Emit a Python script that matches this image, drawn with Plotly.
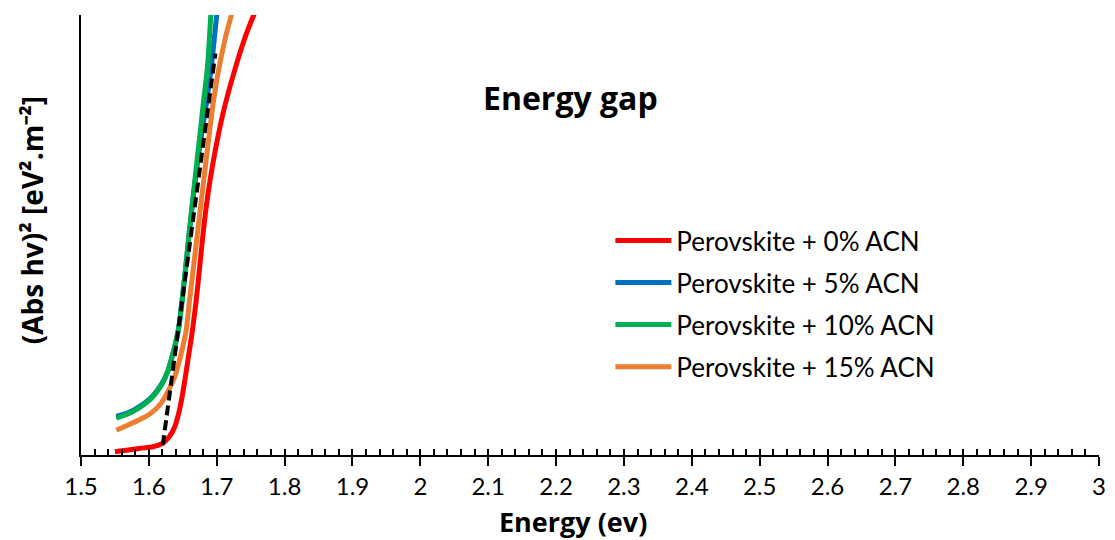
import plotly.graph_objects as go

# Tauc plot data: photon energy (eV) vs (Abs·hv)^2 (arbitrary units)
e_0 = [1.550, 1.586, 1.606, 1.620, 1.630, 1.638, 1.644, 1.649, 1.653, 1.657, 1.661, 1.665,
       1.6698, 1.6749, 1.680, 1.6859, 1.6932, 1.702, 1.712, 1.727, 1.744, 1.7546, 1.770]
abs_0 = [0.06, 0.12, 0.15, 0.21, 0.33, 0.51, 0.76, 1.06, 1.36, 1.68, 2.00, 2.34,
         2.82, 3.42, 4.04, 4.64, 5.22, 5.80, 6.35, 7.02, 7.67, 8.00, 8.45]

e_5 = [1.552, 1.570, 1.586, 1.606, 1.620, 1.628, 1.634, 1.639, 1.6445, 1.650, 1.655, 1.660,
       1.665, 1.671, 1.678, 1.6855, 1.692, 1.700, 1.706]
abs_5 = [0.70, 0.77, 0.88, 1.08, 1.32, 1.53, 1.78, 2.02, 2.36, 2.93, 3.50, 4.10,
         4.64, 5.24, 5.85, 6.45, 7.05, 8.00, 8.70]

e_10 = [1.552, 1.570, 1.586, 1.606, 1.620, 1.628, 1.634, 1.639, 1.6445, 1.650, 1.655, 1.660,
        1.665, 1.670, 1.6755, 1.6807, 1.6863, 1.6913, 1.696]
abs_10 = [0.67, 0.75, 0.86, 1.06, 1.30, 1.52, 1.77, 2.01, 2.35, 2.92, 3.50, 4.10,
          4.68, 5.25, 5.85, 6.45, 7.05, 8.00, 8.90]

e_15 = [1.552, 1.586, 1.603, 1.618, 1.629, 1.638, 1.644, 1.650, 1.655, 1.660, 1.6658, 1.6717,
        1.6774, 1.6832, 1.6891, 1.6946, 1.701, 1.708, 1.715, 1.7229, 1.735]
abs_15 = [0.45, 0.64, 0.76, 0.94, 1.18, 1.42, 1.67, 1.97, 2.27, 2.82, 3.42, 4.04,
          4.64, 5.24, 5.85, 6.38, 6.88, 7.32, 7.70, 8.05, 8.55]

# Linear extrapolation of the absorption edge
fit_e = [1.6205, 1.698]
fit_abs = [0.18, 7.30]

series_names = ["Perovskite + 0% ACN", "Perovskite + 5% ACN",
                "Perovskite + 10% ACN", "Perovskite + 15% ACN"]
series_colors = ["#FF0000", "#0070C0", "#00B050", "#ED7D31"]

x_tickvals = [1.5, 1.6, 1.7, 1.8, 1.9, 2.0, 2.1, 2.2, 2.3, 2.4, 2.5, 2.6, 2.7, 2.8, 2.9, 3.0]
x_ticktext = ["1.5", "1.6", "1.7", "1.8", "1.9", "2", "2.1", "2.2", "2.3", "2.4",
              "2.5", "2.6", "2.7", "2.8", "2.9", "3"]

FONT = "Lato"
BOLD_FONT = "Open Sans"

# plot area in pixels
L, R, T, B = 81, 9, 15, 85
W, H = 1115, 540
PW, PH = W - L - R, H - T - B


def px_x(px):
    return (px - L) / PW


def px_y(py):
    return (H - B - py) / PH


fig = go.Figure()
for xs, ys, name, color in zip([e_0, e_5, e_10, e_15], [abs_0, abs_5, abs_10, abs_15],
                               series_names, series_colors):
    fig.add_trace(go.Scatter(x=xs, y=ys, mode="lines", name=name,
                             line=dict(color=color, width=5, shape="spline", smoothing=0.8),
                             legendgroup=name))

fig.add_trace(go.Scatter(x=fit_e, y=fit_abs, mode="lines", showlegend=False,
                         line=dict(color="black", width=4, dash="10px,5px")))

# Invisible carrier for the inner tick axis
fig.add_trace(go.Scatter(x=[1.5], y=[0], xaxis="x2", mode="markers",
                         marker=dict(opacity=0), showlegend=False, hoverinfo="skip"))

fig.update_layout(
    width=W, height=H,
    margin=dict(l=L, r=R, t=T, b=B),
    paper_bgcolor="white", plot_bgcolor="white",
    font=dict(family=FONT, color="black"),
    showlegend=True,
    legend=dict(x=px_x(614), y=px_y(217), xanchor="left", yanchor="top",
                font=dict(size=26, family=FONT), bgcolor="rgba(0,0,0,0)",
                traceorder="grouped", tracegroupgap=5.3, itemwidth=56),
    xaxis=dict(range=[1.5, 3.0], tickvals=x_tickvals, ticktext=x_ticktext,
               ticks="outside", ticklen=9, tickwidth=2, tickcolor="black",
               showline=True, linecolor="black", linewidth=2, showgrid=False,
               zeroline=False, tickfont=dict(size=24, family=FONT)),
    xaxis2=dict(range=[1.5, 3.0], overlaying="x", side="bottom", anchor="y",
                dtick=0.02, tick0=1.5, ticks="inside", ticklen=6, tickwidth=2,
                tickcolor="black", showticklabels=False, showline=False,
                showgrid=False, zeroline=False),
    yaxis=dict(range=[0, 8], showline=True, linecolor="black", linewidth=2,
               showticklabels=False, ticks="", showgrid=False, zeroline=False),
    annotations=[
        dict(text="<b>Energy gap</b>", x=px_x(574), y=px_y(98), xref="paper", yref="paper",
             xanchor="center", yanchor="middle", showarrow=False,
             font=dict(size=32, family=BOLD_FONT)),
        dict(text="<b>Energy (ev)</b>", x=px_x(576), y=px_y(521), xref="paper", yref="paper",
             xanchor="center", yanchor="middle", showarrow=False,
             font=dict(size=27, family=BOLD_FONT)),
        dict(text="<b>(Abs hv)² [eV².m⁻²]</b>", x=px_x(32), y=px_y(220), xref="paper",
             yref="paper", xanchor="center", yanchor="middle", textangle=-90,
             showarrow=False, font=dict(size=28, family=BOLD_FONT)),
    ],
)

fig.write_html("out.html")
